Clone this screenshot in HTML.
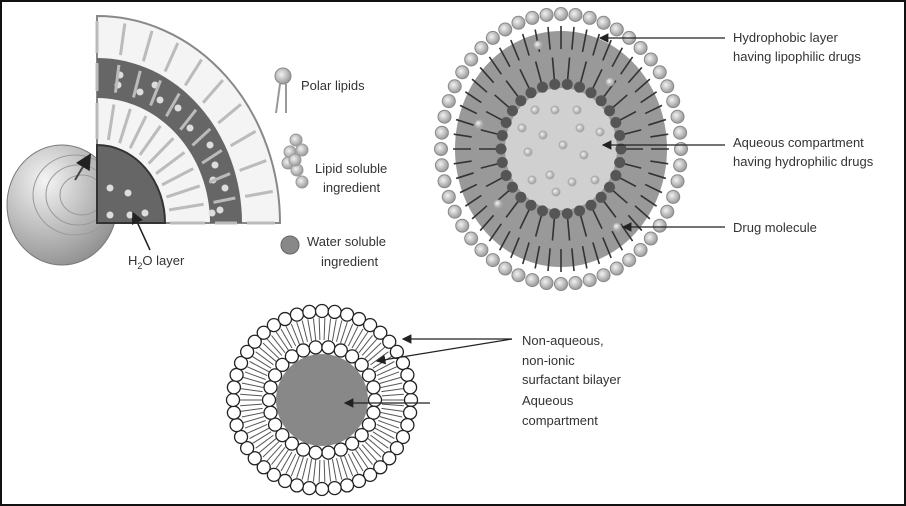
<!DOCTYPE html>
<html><head><meta charset="utf-8"><style>
html,body{margin:0;padding:0;background:#fff}
svg{display:block}
text{font-family:"Liberation Sans",sans-serif;fill:#333;font-size:13px}
</style></head><body>
<svg id="s" width="906" height="506" viewBox="0 0 906 506" xmlns="http://www.w3.org/2000/svg">
<defs>
<radialGradient id="hemi" cx="0.35" cy="0.3" r="0.8"><stop offset="0" stop-color="#f4f4f4"/><stop offset="1" stop-color="#8a8a8a"/></radialGradient>
<radialGradient id="ball" cx="0.4" cy="0.4" r="0.6"><stop offset="0" stop-color="#f2f2f2"/><stop offset="1" stop-color="#9a9a9a"/></radialGradient>
<marker id="ar" markerWidth="8" markerHeight="8" refX="7" refY="4" orient="auto"><path d="M0,0 L8,4 L0,8 z" fill="#222"/></marker>
</defs>
<rect x="1" y="1" width="904" height="504" fill="#fff" stroke="#111" stroke-width="2"/>
<!-- hemisphere -->
<path d="M8,190 A55,45 0 0 0 118,190 L118,200 A55,62 0 0 1 8,200 Z" fill="#999"/>
<ellipse cx="62" cy="205" rx="55" ry="60" fill="url(#hemi)" stroke="#777"/>
<g fill="none" stroke="#999">
<ellipse cx="75" cy="195" rx="42" ry="40"/><ellipse cx="78" cy="195" rx="32" ry="30"/><ellipse cx="82" cy="195" rx="22" ry="20"/>
</g>
<line x1="75" y1="180" x2="90" y2="155" stroke="#444" stroke-width="2" marker-end="url(#ar)"/>
<!-- quarter -->
<path d="M97,223 L97,16 A183,207 0 0 1 280,223 Z" fill="#f4f4f4" stroke="#888" stroke-width="2"/>
<path d="M97,223 L97,58 A145,165 0 0 1 242,223 L210,223 A113,125 0 0 0 97,98 Z" fill="#666"/>
<path d="M97,223 L97,145 A68,78 0 0 1 165,223 Z" fill="#666" stroke="#333" stroke-width="2"/>
<g id="qdots" fill="#ddd"></g>
<g id="qlip" stroke="#bbb" fill="none"></g>
<line x1="150" y1="250" x2="133" y2="213" stroke="#222" stroke-width="1.5" marker-end="url(#ar)"/>
<text x="128" y="265">H<tspan font-size="9" dy="4">2</tspan><tspan dy="-4">O layer</tspan></text>
<!-- legend -->
<circle cx="283" cy="76" r="8" fill="url(#ball)" stroke="#888"/>
<line x1="280" y1="84" x2="276" y2="113" stroke="#999" stroke-width="2"/><line x1="286" y1="84" x2="286" y2="113" stroke="#999" stroke-width="2"/>
<text x="301" y="90">Polar lipids</text>
<g fill="url(#ball)" stroke="#999">
<circle cx="296" cy="140" r="6"/><circle cx="290" cy="152" r="6"/><circle cx="302" cy="150" r="6"/><circle cx="288" cy="163" r="6"/><circle cx="297" cy="170" r="6"/><circle cx="302" cy="182" r="6"/><circle cx="295" cy="160" r="6"/>
</g>
<text x="315" y="173">Lipid soluble</text><text x="323" y="192">ingredient</text>
<circle cx="290" cy="245" r="9" fill="#888" stroke="#666"/>
<text x="307" y="246">Water soluble</text><text x="321" y="266">ingredient</text>
<!-- right liposome -->
<ellipse cx="561" cy="149" rx="106" ry="118" fill="#999"/>
<ellipse cx="561" cy="149" rx="56" ry="61" fill="#d0d0d0"/>
<g id="rl"></g>
<line x1="725" y1="38" x2="600" y2="38" stroke="#222" stroke-width="1.2" marker-end="url(#ar)"/>
<line x1="725" y1="145" x2="603" y2="145" stroke="#222" stroke-width="1.2" marker-end="url(#ar)"/>
<line x1="725" y1="227" x2="623" y2="227" stroke="#222" stroke-width="1.2" marker-end="url(#ar)"/>
<text x="733" y="42">Hydrophobic layer</text><text x="733" y="61">having lipophilic drugs</text>
<text x="733" y="147">Aqueous compartment</text><text x="733" y="166">having hydrophilic drugs</text>
<text x="733" y="232">Drug molecule</text>
<!-- bottom vesicle -->
<g id="bl"></g>
<circle cx="322" cy="400" r="46" fill="#888"/>
<line x1="512" y1="339" x2="403" y2="339" stroke="#222" stroke-width="1.2" marker-end="url(#ar)"/>
<line x1="512" y1="339" x2="377" y2="361" stroke="#222" stroke-width="1.2" marker-end="url(#ar)"/>
<line x1="430" y1="403" x2="345" y2="403" stroke="#222" stroke-width="1.2" marker-end="url(#ar)"/>
<text x="522" y="345">Non-aqueous,</text><text x="522" y="365">non-ionic</text><text x="522" y="384">surfactant bilayer</text>
<text x="522" y="405">Aqueous</text><text x="522" y="425">compartment</text>
</svg>
<script>
var NS="http://www.w3.org/2000/svg";
function el(p,t,a){var e=document.createElementNS(NS,t);for(var k in a)e.setAttribute(k,a[k]);p.appendChild(e);return e;}
var qd=document.getElementById('qdots');
[[110,188],[110,215],[130,215],[145,213],[128,193],[120,75],[118,85],[140,92],[155,85],[160,100],[178,108],[190,128],[210,145],[215,165],[213,180],[225,188],[220,210],[212,213]].forEach(function(p){el(qd,'circle',{cx:p[0],cy:p[1],r:3.5});});
var ql=document.getElementById('qlip');
for(var i=0;i<=10;i++){var a=i/10*Math.PI/2;
 el(ql,'line',{x1:97+118*Math.sin(a),y1:223-132*Math.cos(a),x2:97+140*Math.sin(a),y2:223-160*Math.cos(a),'stroke-width':3});
 el(ql,'line',{x1:97+150*Math.sin(a),y1:223-170*Math.cos(a),x2:97+178*Math.sin(a),y2:223-202*Math.cos(a),'stroke-width':3});
 el(ql,'line',{x1:97+73*Math.sin(a),y1:223-84*Math.cos(a),x2:97+108*Math.sin(a),y2:223-120*Math.cos(a),'stroke-width':3});
}
var rl=document.getElementById('rl');var cx=561,cy=149;
var N=52;
for(var i=0;i<N;i++){var a=i/N*2*Math.PI,c=Math.cos(a),sn=Math.sin(a);
 el(rl,'line',{x1:cx+108*c,y1:cy+123*sn,x2:cx+90*c,y2:cy+100*sn,stroke:'#333','stroke-width':1.6});
 el(rl,'circle',{cx:cx+120*c,cy:cy+135*sn,r:6.5,fill:'url(#ball)',stroke:'#888'});}
var M=30;
for(var i=0;i<M;i++){var a=i/M*2*Math.PI,c=Math.cos(a),sn=Math.sin(a);
 el(rl,'line',{x1:cx+62*c,y1:cy+68*sn,x2:cx+82*c,y2:cy+92*sn,stroke:'#333','stroke-width':1.6});
 el(rl,'circle',{cx:cx+60*c,cy:cy+65*sn,r:5.5,fill:'#555'});}
[[535,110],[555,110],[577,110],[522,128],[543,135],[580,128],[600,132],[528,152],[563,145],[584,155],[532,180],[550,175],[572,182],[595,180],[556,192],[610,82],[479,124],[498,204],[617,227],[538,45]].forEach(function(p){el(rl,'circle',{cx:p[0],cy:p[1],r:4,fill:'url(#ball)',stroke:'#aaa'});});
var bl=document.getElementById('bl');cx=322;cy=400;
el(bl,'circle',{cx:cx,cy:cy,r:90,fill:'#fff'});
for(var i=0;i<90;i++){var a=i/90*2*Math.PI,c=Math.cos(a),sn=Math.sin(a);
 el(bl,'line',{x1:cx+60*c,y1:cy+60*sn,x2:cx+82*c,y2:cy+82*sn,stroke:'#555','stroke-width':1});}
for(var i=0;i<44;i++){var a=i/44*2*Math.PI;
 el(bl,'circle',{cx:cx+89*Math.cos(a),cy:cy+89*Math.sin(a),r:6.5,fill:'#fff',stroke:'#222','stroke-width':1.3});}
for(var i=0;i<26;i++){var a=i/26*2*Math.PI;
 el(bl,'circle',{cx:cx+53*Math.cos(a),cy:cy+53*Math.sin(a),r:6.5,fill:'#fff',stroke:'#222','stroke-width':1.3});}
</script>
</body></html>
